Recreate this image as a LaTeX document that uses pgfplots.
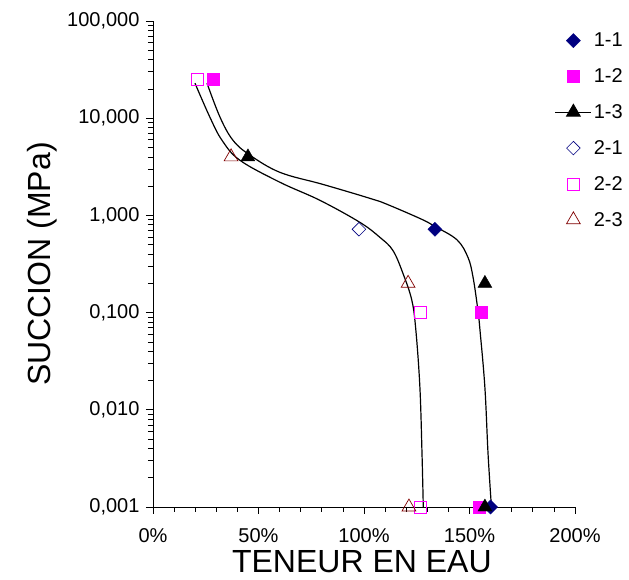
\documentclass[border=0pt]{standalone}
\usepackage{pgfplots}
\pgfplotsset{compat=1.18}
\usepackage{fontspec}
\setmainfont{Liberation Sans}
\definecolor{navyc}{RGB}{0,0,128}
\definecolor{magc}{RGB}{255,0,255}
\definecolor{brownc}{RGB}{128,0,0}
\begin{document}
\begin{tikzpicture}
\path[use as bounding box] (-153pt,-73pt) rectangle (476pt,507pt);
\begin{axis}[
  scale only axis, width=422pt, height=486pt,
  xmin=0, xmax=200, ymode=log, ymin=0.001, ymax=100,
  axis lines*=left,
  clip=false,
  xtick={0,50,100,150,200},
  xticklabels={0\%,50\%,100\%,150\%,200\%},
  minor x tick num=4,
  ytick={0.001,0.01,0.1,1,10,100},
  yticklabels={{0,001},{0,010},{0,100},{1,000},{10,000},{100,000}},
  minor ytick={0.002,0.003,0.004,0.005,0.006,0.007,0.008,0.009,
               0.02,0.03,0.04,0.05,0.06,0.07,0.08,0.09,
               0.2,0.3,0.4,0.5,0.6,0.7,0.8,0.9,
               2,3,4,5,6,7,8,9,
               20,30,40,50,60,70,80,90},
  tick align=outside,
  major tick length=7pt, minor tick length=5pt,
  tick style={black, line width=0.7pt},
  axis line style={black, line width=0.9pt},
  ticklabel style={font=\fontsize{20}{24}\selectfont},
  x tick label style={yshift=-11pt},
  y tick label style={xshift=-3pt},
  xlabel={TENEUR EN EAU}, ylabel={SUCCION (MPa)},
  label style={font=\fontsize{32}{38}\selectfont},
  xlabel style={at={(axis description cs:0.495,-0.113)}, anchor=center},
  ylabel style={at={(axis description cs:-0.262,0.5)}, anchor=center},
  legend style={at={(axis description cs:0.945,0.984)}, anchor=north west,
    draw=none, fill=none, font=\fontsize{20}{24}\selectfont,
    row sep=16.4pt, cells={anchor=west}},
  legend image code/.code={\draw[mark repeat=2,mark phase=2] plot coordinates {(0pt,0pt) (18pt,0pt) (36pt,0pt)};},
]
% fitted curves
\addplot[black, line width=1.2pt, smooth, tension=0.6, forget plot] coordinates {
(25.6,22.9) (31.8,10.2) (37.9,5.93) (46.0,4.16) (60.2,2.77) (80,2.10) (98.1,1.61)
(107.6,1.39) (126.5,0.93) (133.6,0.77) (144.1,0.56) (149.3,0.369) (151.7,0.230) (154.0,0.105)
(155.0,0.065) (157.3,0.0169) (158.8,0.0035) (160.4,0.001)};
\addplot[black, line width=1.2pt, smooth, tension=0.6, forget plot] coordinates {
(19.9,22.9) (27.0,10.2) (32.7,5.93) (41.2,3.69) (60.2,2.19) (79.1,1.43) (98.1,0.847)
(107.6,0.593) (113.7,0.436) (118.5,0.252) (122.7,0.133) (124.6,0.065) (126.5,0.0169)
(127.5,0.0035) (128.1,0.001)};
% series
\addplot[only marks, mark=square*, mark size=5pt, navyc, mark options={fill=navyc, rotate=45}]
  coordinates {(133.6,0.72) (160.0,0.001)};
\addlegendentry{1-1}
\addplot[only marks, mark=square*, mark size=6pt, magc, mark options={fill=magc}]
  coordinates {(28.4,25) (155.5,0.1) (154.5,0.001)};
\addlegendentry{1-2}
\addplot[only marks, mark=triangle*, mark size=8pt, black, mark options={fill=black}, forget plot]
  coordinates {(45,4) (157.3,0.2) (157.3,0.001)};
\addlegendimage{black, line width=0.8pt, mark=triangle*, mark size=8pt, mark options={fill=black}}
\addlegendentry{1-3}
\addplot[only marks, mark=square, mark size=4.8pt, navyc, mark options={fill=white, line width=0.6pt, rotate=45}]
  coordinates {(97.6,0.72)};
\addlegendentry{2-1}
\addplot[only marks, mark=square, mark size=6pt, magc, mark options={fill=white, line width=0.7pt}]
  coordinates {(20.9,25) (126.5,0.1) (126.5,0.001)};
\addlegendentry{2-2}
\addplot[only marks, mark=triangle, mark size=8pt, brownc, mark options={fill=white, line width=0.7pt}]
  coordinates {(37,4) (120.9,0.2) (121.3,0.001)};
\addlegendentry{2-3}
\end{axis}
\end{tikzpicture}
\end{document}
